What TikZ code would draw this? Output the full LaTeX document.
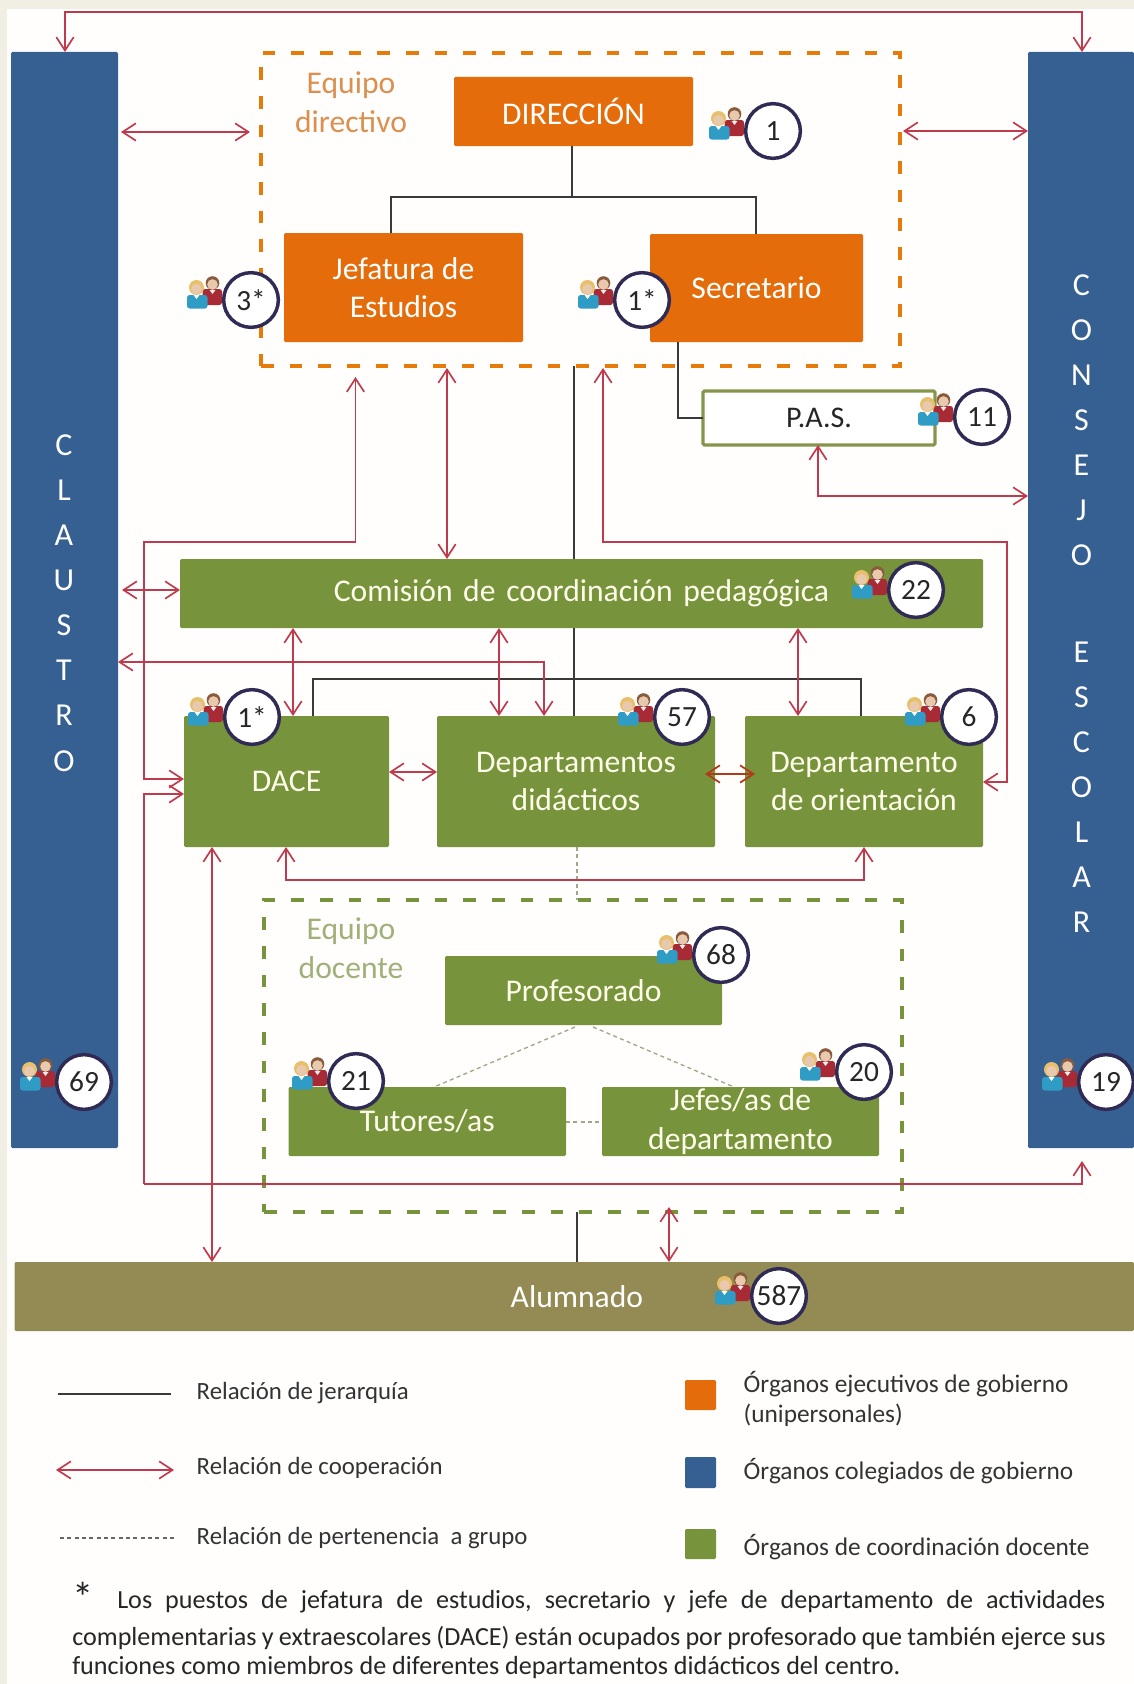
\documentclass[tikz,border=0pt]{standalone}
\usepackage{fontspec}
\setmainfont{Carlito}
\usetikzlibrary{arrows.meta}
\definecolor{cream}{HTML}{F1EEE4}
\definecolor{paper}{HTML}{FFFEFC}
\definecolor{orangeb}{HTML}{E46C0A}
\definecolor{blueb}{HTML}{376092}
\definecolor{greenb}{HTML}{77933C}
\definecolor{oliveb}{HTML}{948A54}
\definecolor{redl}{HTML}{BE3A4C}
\definecolor{darkred}{HTML}{B03A1A}
\definecolor{inkl}{HTML}{3A3A3A}
\definecolor{ringc}{HTML}{2F2B55}
\definecolor{grpl}{HTML}{A3A58A}
\definecolor{orangetxt}{HTML}{DB9050}
\definecolor{greentxt}{HTML}{A0B07A}
\definecolor{coatm}{HTML}{A82A35}
\definecolor{hairm}{HTML}{8A5A3C}
\definecolor{skinp}{HTML}{E9C9AE}
\definecolor{coatw}{HTML}{2E9CC4}
\definecolor{hairw}{HTML}{E8C06C}
\tikzset{
  x=0.75pt,y=-0.75pt,
  >={Straight Barb[length=10pt,width=13pt]},
  orgbox/.style={rounded corners=1pt,inner sep=0pt,outer sep=0pt,align=center,text=white,font=\fontsize{23.7}{29}\selectfont},
  orangebox/.style={orgbox,fill=orangeb,text=white},
  bluebox/.style={orgbox,fill=blueb,text=white},
  greenbox/.style={orgbox,fill=greenb,text=white!92!yellow},
  olivebox/.style={orgbox,fill=oliveb,text=white},
  pasbox/.style={orgbox,fill=white,draw=oliveb!90!green,line width=2.4pt,text=black!85,font=\fontsize{22.5}{29}\selectfont},
  groupo/.style={draw=orangeb!90!yellow,line width=3pt,dash pattern=on 9.5pt off 12pt,inner sep=0pt,outer sep=0pt},
  groupg/.style={draw=greenb,line width=3pt,dash pattern=on 9.5pt off 12pt,inner sep=0pt,outer sep=0pt},
  hier/.style={draw=inkl,line width=1pt},
  coop/.style={draw=redl,line width=1.25pt},
  coopdark/.style={draw=darkred,line width=1.3pt},
  grp/.style={draw=grpl,line width=1pt,dash pattern=on 3pt off 2.5pt},
  ring/.style={circle,draw=ringc,line width=2.6pt,fill=white,minimum size=41pt,inner sep=0pt,text=black!85,font=\fontsize{22}{24}\selectfont},
  grouplabel/.style={align=center,font=\fontsize{23.7}{29}\selectfont},
  legendtxt/.style={anchor=west,text=black!80,font=\fontsize{18.6}{20}\selectfont},
  legendorg/.style={anchor=west,text=black!80,font=\fontsize{19}{20}\selectfont},
  swatch/.style={rounded corners=1pt,inner sep=0pt,outer sep=0pt},
  notetxt/.style={anchor=west,inner sep=0pt,text=black!85,font=\fontsize{19.6}{22}\selectfont},
  letterstack/.style={text=white,align=center,font=\fontsize{24}{33.8}\selectfont,inner sep=0pt},
  people/.pic={
    \fill[coatm,rounded corners=2] (-2,-3) rectangle (17.5,13);
    \fill[hairm] (8,-9) circle (6.8);
    \fill[skinp] (8,-7.5) circle (5.3);
    \fill[white!85!gray] (5,-2) -- (11,-2) -- (8,2) -- cycle;
    \fill[coatw,rounded corners=2] (-17.5,3) rectangle (3,16.5);
    \fill[hairw] (-8,-4.5) circle (7.5);
    \fill[skinp] (-8,-2.8) circle (5.3);
    \fill[white] (-11,3) -- (-5,3) -- (-8,7) -- cycle;
  }
}
\newcommand{\orgnode}[7]{%
  \pgfmathsetmacro{\orgcx}{(#3+#5)/2}%
  \pgfmathsetmacro{\orgcy}{(#4+#6)/2}%
  \pgfmathsetmacro{\orgw}{(#5-#3)*0.75}%
  \pgfmathsetmacro{\orgh}{(#6-#4)*0.75}%
  \node[#1,minimum width=\orgw pt,minimum height=\orgh pt] (#2) at (\orgcx,\orgcy) {#7};}
\newcommand{\badge}[4]{%
  \pic[shift={(-46.5,-8)}] at (#2,#3) {people};
  \node[ring] (#1) at (#2,#3) {#4};}
\begin{document}
\begin{tikzpicture}
\useasboundingbox (0,0) rectangle (1134,1684);
\fill[cream] (0,0) rectangle (1134,1684);
\fill[paper] (7,9) rectangle (1134,1684);

% colegiate organs
\orgnode{bluebox}{claustro}{11}{52}{118}{1148}{}
\orgnode{bluebox}{consejo}{1028}{52}{1134}{1148}{}
\node[letterstack] (claustrotxt) at (64,603) {C\\L\\A\\U\\S\\T\\R\\O};
\node[letterstack] (consejotxt) at (1081.5,603.5) {C\\O\\N\\S\\E\\J\\O\\[38.7pt]E\\S\\C\\O\\L\\A\\R};

% group frames
\orgnode{groupo}{directivo}{261}{53}{900}{366}{}
\orgnode{groupg}{docente}{264}{900}{902}{1212}{}
\node[grouplabel,text=orangetxt] (directivotxt) at (351,102) {Equipo\\directivo};
\node[grouplabel,text=greentxt] (docentetxt) at (351,948) {Equipo\\docente};

% organs
\orgnode{orangebox}{direccion}{454}{77}{693}{146}{DIRECCIÓN}
\orgnode{orangebox}{jefatura}{284}{233}{523}{342}{Jefatura de\\Estudios}
\orgnode{orangebox}{secretario}{650}{234}{863}{342}{Secretario}
\orgnode{pasbox}{pas}{703}{391}{935}{445}{P.A.S.}
\orgnode{greenbox}{comision}{180}{559}{983}{628}{Comisión\hspace{8pt}de\hspace{8pt}coordinación\hspace{8pt}pedagógica}
\orgnode{greenbox}{dace}{184}{716}{389}{847}{DACE}
\orgnode{greenbox}{deptos}{437}{716}{715}{847}{Departamentos\\didácticos}
\orgnode{greenbox}{orient}{745}{716}{983}{847}{Departamento\\de orientación}
\orgnode{greenbox}{prof}{445}{956}{722}{1025}{Profesorado}
\orgnode{greenbox}{tutores}{288.5}{1087}{566}{1156}{Tutores/as}
\orgnode{greenbox}{jefes}{602}{1087}{879}{1156}{Jefes/as de\\departamento}
\orgnode{olivebox}{alumnado}{14.5}{1262}{1134}{1331}{\hspace*{4pt}Alumnado}

% hierarchy
\draw[hier] (direccion.south -| 572,0) -- (572,197);
\draw[hier] (jefatura.north -| 391,0) -- (391,197) -- (756,197) -- (secretario.north -| 756,0);
\draw[hier] (secretario.south -| 678,0) -- (678,418) -- (pas.west);
\draw[hier] (directivo.south -| 574,0) -- (comision.north -| 574,0);
\draw[hier] (comision.south -| 574,0) -- (deptos.north -| 574,0);
\draw[hier] (dace.north -| 313,0) -- (313,679) -- (861,679) -- (orient.north -| 861,0);
\draw[hier] (docente.south -| 577,0) -- (alumnado.north -| 577,0);

% group membership
\draw[grp] (deptos.south -| 577,0) -- (docente.north -| 577,0);
\draw[grp] (575,1027) -- (tutores.north -| 434,0);
\draw[grp] (593,1027) -- (jefes.north -| 734,0);
\draw[grp] (tutores.east |- 0,1122) -- (jefes.west |- 0,1122);

% cooperation
\coordinate (tipA) at (355.5,377);
\coordinate (tipB) at (447,368);
\coordinate (tipC) at (603,368);
\coordinate (tipE) at (121,132);
\coordinate (tipE2) at (250,132);
\coordinate (tipF) at (903,131);
\coordinate (tipG) at (122,590);
\coordinate (tipQ) at (669,1207);
\coordinate (tipP) at (1082,1161);
\draw[coop,<->] (claustro.north -| 65,0) -- (65,12) -- (1082,12) -- (consejo.north -| 1082,0);
\draw[coop,<->] (tipE) -- (tipE2);
\draw[coop,<->] (tipF) -- (consejo.west |- 0,131);
\draw[coop,<->] (tipA) -- (355.5,542) -- (144,542) -- (144,779) -- (dace.west |- 0,779);
\draw[coop,<->] (tipB) -- (comision.north -| 447,0);
\draw[coop,<->] (tipC) -- (603,542) -- (1007,542) -- (1007,782) -- (orient.east |- 0,782);
\draw[coop,<->] (pas.south -| 818,0) -- (818,496) -- (consejo.west |- 0,496);
\draw[coop,<->] (tipG) -- (comision.west |- 0,590);
\draw[coop,<->] (claustro.east |- 0,662) -- (544,662) -- (deptos.north -| 544,0);
\draw[coop,<->] (comision.south -| 293,0) -- (dace.north -| 293,0);
\draw[coop,<->] (comision.south -| 499,0) -- (deptos.north -| 499,0);
\draw[coop,<->] (comision.south -| 798,0) -- (orient.north -| 798,0);
\draw[coop,<->] (dace.east |- 0,772) -- (deptos.west |- 0,772);
\draw[coopdark,<->] (705,774) -- (755,774);
\draw[coop,<->] (dace.south -| 286,0) -- (286,880) -- (864,880) -- (orient.south -| 864,0);
\draw[coop,<->] (dace.south -| 212,0) -- (alumnado.north -| 212,0);
\draw[coop,->] (144,1184) -- (144,794) -- (dace.west |- 0,794);
\draw[coop,->] (144,1184) -- (1082,1184) -- (tipP);
\draw[coop,<->] (tipQ) -- (alumnado.north -| 669,0);

% badges
\badge{b1}{773}{131}{1}
\badge{b3}{251}{300}{3*}
\badge{bs}{642}{300}{1*}
\badge{bp}{982}{417}{11}
\badge{bc}{916}{590}{22}
\badge{bd}{682}{717}{57}
\badge{bo}{969}{717}{6}
\badge{bt}{252}{717}{1*}
\badge{bf}{721}{955}{68}
\badge{bcl}{84}{1082}{69}
\badge{bu}{356}{1081}{21}
\badge{bj}{864}{1072}{20}
\badge{bce}{1106}{1082}{19}
\badge{ba}{779}{1296}{587}

% legend
\coordinate (l1a) at (58,1394); \coordinate (l1b) at (171,1394);
\coordinate (l2a) at (56,1470); \coordinate (l2b) at (174,1470);
\coordinate (l3a) at (60,1538); \coordinate (l3b) at (174,1538);
\draw[hier] (l1a) -- (l1b);
\draw[coop,<->] (l2a) -- (l2b);
\draw[draw=black!60,line width=1pt,dash pattern=on 3pt off 2.5pt] (l3a) -- (l3b);
\node[legendtxt] (t1) at (192,1393) {Relación de jerarquía};
\node[legendtxt] (t2) at (192,1468) {Relación de cooperación};
\node[legendtxt] (t3) at (192,1538) {Relación de pertenencia\ \ a grupo};
\orgnode{swatch,fill=orangeb}{s1}{685}{1380}{716}{1410}{}
\orgnode{swatch,fill=blueb}{s2}{685}{1457}{716}{1488}{}
\orgnode{swatch,fill=greenb}{s3}{685}{1529}{716}{1559}{}
\node[legendorg] (o1) at (739,1384) {Órganos ejecutivos de gobierno};
\node[legendorg] (o2) at (739,1415) {(unipersonales)};
\node[legendorg] (o3) at (739,1471) {Órganos colegiados de gobierno};
\node[legendorg] (o4) at (739,1547) {Órganos de coordinación docente};

% note
\node[notetxt,font=\fontsize{32}{32}\selectfont] (star) at (72,1597) {*};
\node[notetxt] (n1) at (117,1602) {\hbox to 741pt{Los\hfil puestos\hfil de\hfil jefatura\hfil de\hfil estudios,\hfil secretario\hfil y\hfil jefe\hfil de\hfil departamento\hfil de\hfil actividades}};
\node[notetxt] (n2) at (72,1638) {\hbox to 775pt{complementarias\hfil y\hfil extraescolares\hfil (DACE)\hfil están\hfil ocupados\hfil por\hfil profesorado\hfil que\hfil también\hfil ejerce\hfil sus}};
\node[notetxt] (n3) at (72,1668) {funciones como miembros de diferentes departamentos didácticos del centro.};
\end{tikzpicture}
\end{document}
